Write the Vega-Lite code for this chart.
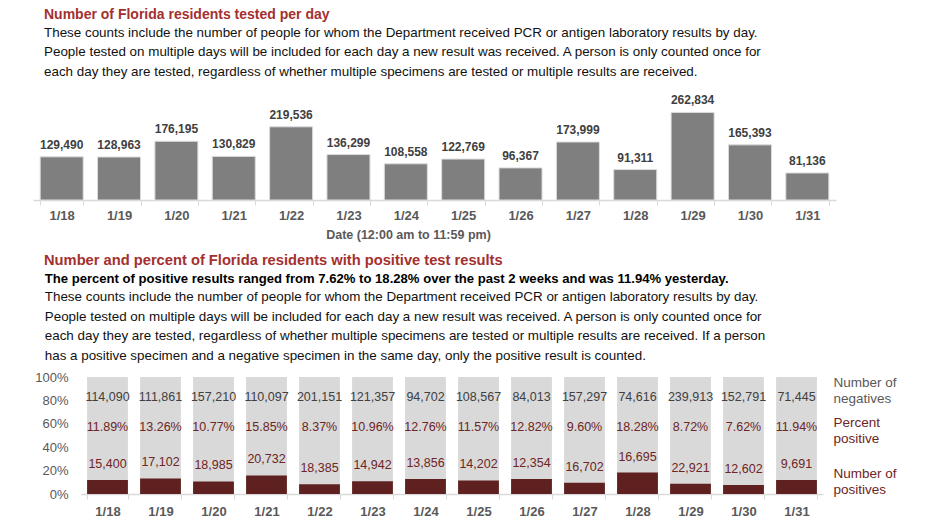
{
  "$schema": "https://vega.github.io/schema/vega-lite/v6.json",
  "padding": {"left": 33, "top": 7, "right": 5, "bottom": 5},
  "background": "white",
  "spacing": 12,
  "datasets": {
    "florida": [
      {"date": "1/18", "tested": 129490, "pos": 15400, "neg": 114090, "pct": 0.1189},
      {"date": "1/19", "tested": 128963, "pos": 17102, "neg": 111861, "pct": 0.1326},
      {"date": "1/20", "tested": 176195, "pos": 18985, "neg": 157210, "pct": 0.1077},
      {"date": "1/21", "tested": 130829, "pos": 20732, "neg": 110097, "pct": 0.1585},
      {"date": "1/22", "tested": 219536, "pos": 18385, "neg": 201151, "pct": 0.0837},
      {"date": "1/23", "tested": 136299, "pos": 14942, "neg": 121357, "pct": 0.1096},
      {"date": "1/24", "tested": 108558, "pos": 13856, "neg": 94702, "pct": 0.1276},
      {"date": "1/25", "tested": 122769, "pos": 14202, "neg": 108567, "pct": 0.1157},
      {"date": "1/26", "tested": 96367, "pos": 12354, "neg": 84013, "pct": 0.1282},
      {"date": "1/27", "tested": 173999, "pos": 16702, "neg": 157297, "pct": 0.0960},
      {"date": "1/28", "tested": 91311, "pos": 16695, "neg": 74616, "pct": 0.1828},
      {"date": "1/29", "tested": 262834, "pos": 22921, "neg": 239913, "pct": 0.0872},
      {"date": "1/30", "tested": 165393, "pos": 12602, "neg": 152791, "pct": 0.0762},
      {"date": "1/31", "tested": 81136, "pos": 9691, "neg": 71445, "pct": 0.1194}
    ],
    "empty": []
  },
  "config": {
    "font": "Liberation Sans",
    "view": {"stroke": null},
    "axis": {"grid": false, "labelFont": "Liberation Sans", "titleFont": "Liberation Sans"}
  },
  "vconcat": [
    {
      "data": {"name": "florida"},
      "title": {
        "text": "Number of Florida residents tested per day",
        "subtitle": [
          "These counts include the number of people for whom the Department received PCR or antigen laboratory results by day.",
          "People tested on multiple days will be included for each day a new result was received. A person is only counted once for",
          "each day they are tested, regardless of whether multiple specimens are tested or multiple results are received."
        ],
        "anchor": "start", "dx": 11, "offset": 16,
        "font": "Liberation Sans", "fontSize": 14, "fontWeight": "bold", "color": "#a3302e",
        "subtitleFont": "Liberation Sans", "subtitleFontSize": 13.4, "subtitleColor": "#111111",
        "subtitleLineHeight": 19.5, "subtitlePadding": 4
      },
      "width": 803, "height": 100,
      "encoding": {
        "x": {"field": "date", "type": "ordinal", "sort": null,
          "scale": {"paddingInner": 0.25, "paddingOuter": 0.125},
          "axis": {"title": "Date (12:00 am to 11:59 pm)", "labelAngle": 0, "tickBand": "extent",
            "tickSize": 5, "tickColor": "#d9d9d9", "domainColor": "#d9d9d9", "domainWidth": 1.5,
            "labelPadding": 4, "labelFontSize": 13, "labelFontWeight": "bold", "labelColor": "#595959",
            "titleFontSize": 12.5, "titleFontWeight": "bold", "titleColor": "#595959", "titlePadding": 6, "titleX": 375}},
        "y": {"field": "tested", "type": "quantitative", "scale": {"domain": [0, 300000], "nice": false}, "axis": null}
      },
      "layer": [
        {"mark": {"type": "bar", "color": "#7f7f7f", "stroke": "#dcdcdc", "strokeWidth": 1}},
        {"mark": {"type": "text", "baseline": "bottom", "dy": -5, "fontSize": 12, "fontWeight": "bold", "color": "#404040"},
         "encoding": {"text": {"field": "tested", "type": "quantitative", "format": ","}}}
      ]
    },
    {
      "title": {
        "text": "Number and percent of Florida residents with positive test results",
        "anchor": "start", "dx": 11, "offset": 5,
        "font": "Liberation Sans", "fontSize": 14.7, "fontWeight": "bold", "color": "#a3302e"
      },
      "spacing": 0,
      "hconcat": [
        {
          "data": {"name": "empty"},
          "width": 1, "height": 117,
          "mark": {"type": "text", "text": ""}
        },
        {
          "data": {"name": "florida"},
          "title": {
            "text": "The percent of positive results ranged from 7.62% to 18.28% over the past 2 weeks and was 11.94% yesterday.",
            "subtitle": [
              "These counts include the number of people for whom the Department received PCR or antigen laboratory results by day.",
              "People tested on multiple days will be included for each day a new result was received. A person is only counted once for",
              "each day they are tested, regardless of whether multiple specimens are tested or multiple results are received. If a person",
              "has a positive specimen and a negative specimen in the same day, only the positive result is counted."
            ],
            "anchor": "start", "dx": 10, "offset": 9,
            "font": "Liberation Sans", "fontSize": 13.1, "fontWeight": "bold", "color": "#000000",
            "subtitleFont": "Liberation Sans", "subtitleFontSize": 13.4, "subtitleColor": "#111111",
            "subtitleLineHeight": 19.5, "subtitlePadding": 4
          },
          "width": 742, "height": 117,
          "encoding": {
            "x": {"field": "date", "type": "ordinal", "sort": null,
              "scale": {"paddingInner": 0.23, "paddingOuter": 0.115},
              "axis": {"title": null, "labelAngle": 0, "tickBand": "extent",
                "tickSize": 5, "tickColor": "#d9d9d9", "domainColor": "#d9d9d9", "domainWidth": 1.5,
                "labelPadding": 6, "labelFontSize": 13, "labelFontWeight": "bold", "labelColor": "#595959"}}
          },
          "layer": [
            {"mark": {"type": "bar", "color": "#d9d9d9"},
             "encoding": {"y": {"datum": 1, "type": "quantitative", "scale": {"domain": [0, 1], "nice": false},
               "axis": {"orient": "left", "title": null, "format": ".0%", "values": [0, 0.2, 0.4, 0.6, 0.8, 1],
                 "domain": false, "ticks": false, "labelPadding": 13, "minExtent": 46,
                 "labelFontSize": 13, "labelColor": "#595959"}}}},
            {"mark": {"type": "bar", "color": "#5f2120"},
             "encoding": {"y": {"field": "pct", "type": "quantitative", "axis": null}}},
            {"mark": {"type": "text", "baseline": "middle", "fontSize": 12.5, "color": "#404040"},
             "encoding": {
               "y": {"datum": 0.83, "type": "quantitative",
                 "axis": {"orient": "right", "title": null, "values": [0.957, 0.615, 0.171],
                   "labelExpr": "datum.value > 0.7 ? ['Number of', 'negatives'] : datum.value > 0.3 ? ['Percent', 'positive'] : ['Number of', 'positives']",
                   "labelColor": {"condition": {"test": "datum.value > 0.7", "value": "#595959"}, "value": "#6d2525"},
                   "domain": false, "ticks": false, "labelPadding": 10, "labelFontSize": 13.5, "labelLineHeight": 16,
                   "labelOverlap": false, "labelBound": false, "labelFlush": false, "labelBaseline": "middle"}},
               "text": {"field": "neg", "type": "quantitative", "format": ","}}},
            {"mark": {"type": "text", "baseline": "middle", "fontSize": 12.5, "color": "#6d2525"},
             "encoding": {
               "y": {"datum": 0.573, "type": "quantitative", "axis": null},
               "text": {"field": "pct", "type": "quantitative", "format": ".2%"}}},
            {"mark": {"type": "text", "baseline": "middle", "dy": -16, "fontSize": 12.5, "color": "#6d2525"},
             "encoding": {
               "y": {"field": "pct", "type": "quantitative", "axis": null},
               "text": {"field": "pos", "type": "quantitative", "format": ","}}}
          ],
          "resolve": {"axis": {"y": "independent"}}
        }
      ]
    }
  ]
}
